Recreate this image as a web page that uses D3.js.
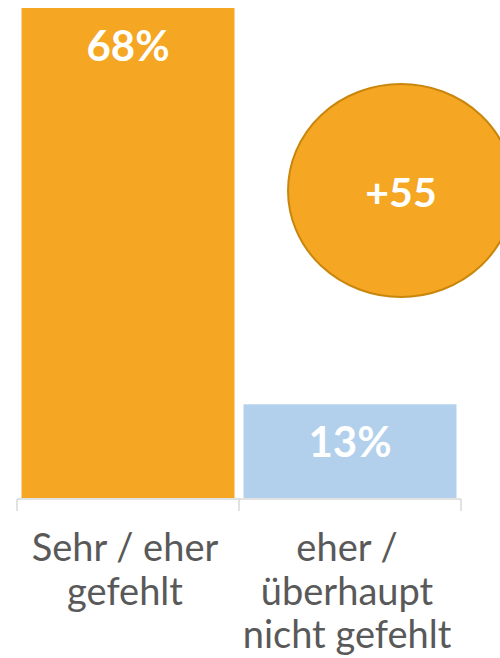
<!DOCTYPE html>
<html>
<head>
<meta charset="utf-8">
<script src="https://cdn.jsdelivr.net/npm/d3@7"></script>
<style>
  body { margin: 0; background: #fff; }
  svg { display: block; font-family: Lato, "Open Sans", sans-serif; }
</style>
</head>
<body>
<div id="chart"></div>
<script>
// data
const categories = ["Sehr / eher gefehlt", "eher / überhaupt nicht gefehlt"];
const categoryLines = [["Sehr / eher", "gefehlt"], ["eher /", "überhaupt", "nicht gefehlt"]];
const values = [68, 13];
const valueLabels = ["68%", "13%"];
const barColors = ["#F5A623", "#B2D0EC"];
const diffLabel = "+55";

const width = 500;
const height = 658;

const svg = d3
  .select("#chart")
  .append("svg")
  .attr("width", width)
  .attr("height", height);

// x: one band per category, ticks sit on the band edges
const x = d3.scaleBand().domain(categories).range([17, 461]).padding(0);
const inset = 4.5;

// y
const y = d3.scaleLinear().domain([0, 68]).range([498, 8]);

// bars
svg
  .selectAll("rect.bar")
  .data(values)
  .join("rect")
  .attr("class", "bar")
  .attr("x", (d, i) => x(categories[i]) + inset)
  .attr("width", x.bandwidth() - 2 * inset)
  .attr("y", (d) => y(d))
  .attr("height", (d) => y(0) - y(d))
  .attr("fill", (d, i) => barColors[i]);

// value labels inside the bars
svg
  .selectAll("text.value")
  .data(values)
  .join("text")
  .attr("class", "value")
  .attr("x", (d, i) => x(categories[i]) + x.bandwidth() / 2)
  .attr("y", (d) => y(d) + 53)
  .attr("text-anchor", "middle")
  .attr("fill", "#fff")
  .style("font-size", "42px")
  .style("font-weight", "bold")
  .text((d, i) => valueLabels[i]);

// axis line + boundary ticks
const axisY = 499;
svg
  .append("line")
  .attr("x1", x.range()[0])
  .attr("x2", x.range()[1])
  .attr("y1", axisY)
  .attr("y2", axisY)
  .attr("stroke", "#D9D9D9")
  .attr("stroke-width", 1.5);

const tickXs = categories.map((c) => x(c)).concat([x.range()[1]]);
svg
  .selectAll("line.tick")
  .data(tickXs)
  .join("line")
  .attr("class", "tick")
  .attr("x1", (d) => d)
  .attr("x2", (d) => d)
  .attr("y1", axisY)
  .attr("y2", axisY + 12)
  .attr("stroke", "#D9D9D9")
  .attr("stroke-width", 1.5);

// category labels
const labels = svg
  .selectAll("text.cat")
  .data(categories)
  .join("text")
  .attr("class", "cat")
  .attr("text-anchor", "middle")
  .attr("fill", "#595959")
  .style("font-size", "38px");

labels
  .selectAll("tspan")
  .data((d, i) => categoryLines[i].map((t) => ({ t, c: d })))
  .join("tspan")
  .attr("x", (d) => x(d.c) + x.bandwidth() / 2 - 3)
  .attr("y", (d, j) => 561 + j * 43.5)
  .text((d) => d.t);

// difference bubble
const bubble = svg.append("g").attr("transform", "translate(401,190.5)");
bubble
  .append("ellipse")
  .attr("rx", 113)
  .attr("ry", 106.5)
  .attr("fill", "#F5A623")
  .attr("stroke", "#C9860C")
  .attr("stroke-width", 2);
bubble
  .append("text")
  .attr("y", 16.5)
  .attr("text-anchor", "middle")
  .attr("fill", "#fff")
  .style("font-size", "41px")
  .style("font-weight", "bold")
  .text(diffLabel);
</script>
</body>
</html>
